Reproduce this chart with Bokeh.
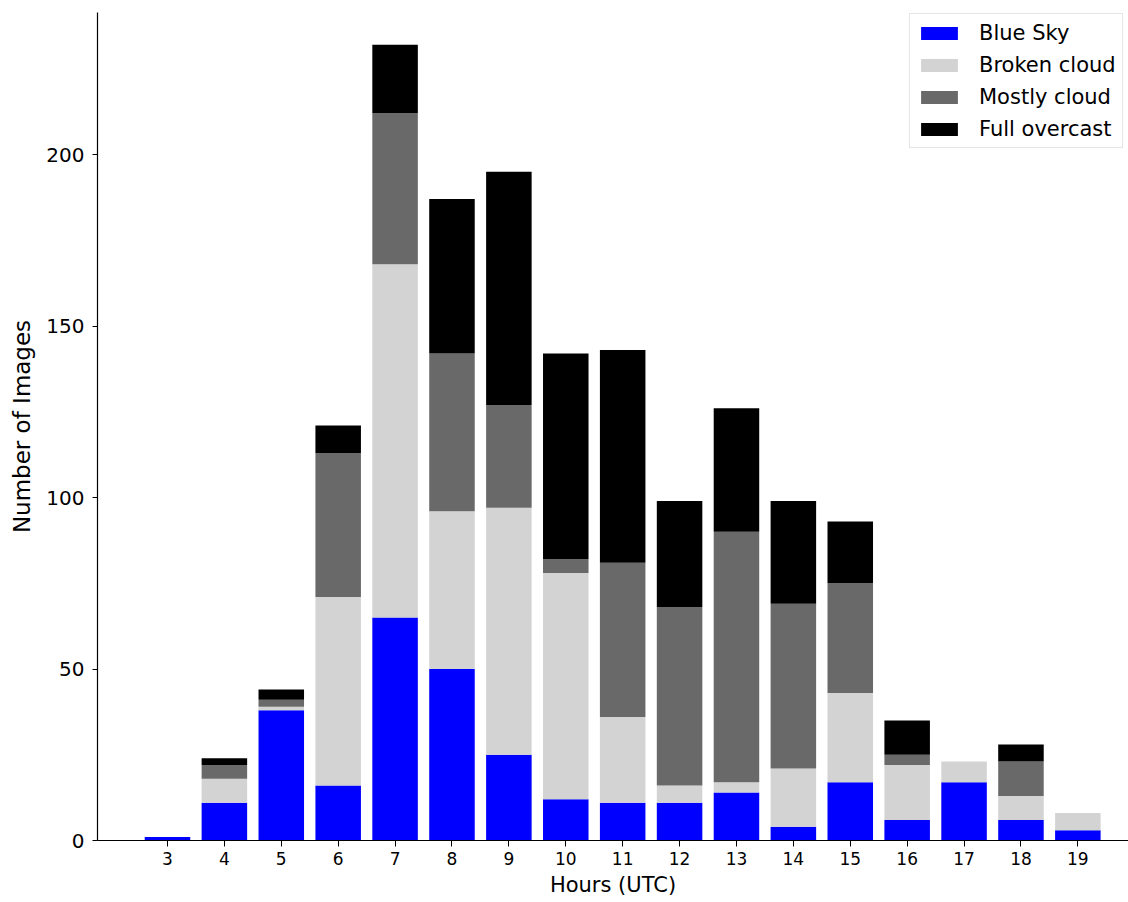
from bokeh.plotting import figure
from bokeh.models import ColumnDataSource, Range1d, Legend, LegendItem, FixedTicker
from bokeh.embed import file_html
from bokeh.resources import INLINE

hours = [3, 4, 5, 6, 7, 8, 9, 10, 11, 12, 13, 14, 15, 16, 17, 18, 19]
blue_sky = [1, 11, 38, 16, 65, 50, 25, 12, 11, 11, 14, 4, 17, 6, 17, 6, 3]
broken_cloud = [0, 7, 1, 55, 103, 46, 72, 66, 25, 5, 3, 17, 26, 16, 6, 7, 5]
mostly_cloud = [0, 4, 2, 42, 44, 46, 30, 4, 45, 52, 73, 48, 32, 3, 0, 10, 0]
full_overcast = [0, 2, 3, 8, 20, 45, 68, 60, 62, 31, 36, 30, 18, 10, 0, 5, 0]
y_ticks = [0, 50, 100, 150, 200]

series = ["Blue Sky", "Broken cloud", "Mostly cloud", "Full overcast"]
colors = ["#0000ff", "#d3d3d3", "#696969", "#000000"]

source = ColumnDataSource(data={
    "hour": hours,
    "Blue Sky": blue_sky,
    "Broken cloud": broken_cloud,
    "Mostly cloud": mostly_cloud,
    "Full overcast": full_overcast,
})

p = figure(width=1128, height=901, output_backend="svg", toolbar_location=None,
           x_range=Range1d(1.77, 19.89), y_range=Range1d(0, 241.4),
           min_border_left=97, min_border_right=0, min_border_top=12, min_border_bottom=61)

renderers = p.vbar_stack(series, x="hour", width=0.8, color=colors, source=source,
                         line_color=None)

p.outline_line_color = None
p.grid.grid_line_color = None
p.background_fill_color = "white"

p.xaxis.ticker = FixedTicker(ticks=hours)
p.yaxis.ticker = FixedTicker(ticks=y_ticks)
p.xaxis.minor_tick_line_color = None
p.yaxis.minor_tick_line_color = None
p.xaxis.major_tick_out = 6
p.xaxis.major_tick_in = 0
p.yaxis.major_tick_out = 5
p.yaxis.major_tick_in = 0
p.axis.axis_line_color = "black"
p.axis.axis_line_width = 1.2
p.axis.major_tick_line_color = "black"
p.axis.major_label_text_color = "black"
p.axis.major_label_text_font = "DejaVu Sans"
p.xaxis.major_label_text_font_size = "17px"
p.yaxis.major_label_text_font_size = "20px"
p.xaxis.major_label_standoff = 5
p.yaxis.major_label_standoff = 8

p.xaxis.axis_label = "Hours (UTC)"
p.yaxis.axis_label = "Number of Images"
p.axis.axis_label_text_font = "DejaVu Sans"
p.axis.axis_label_text_font_style = "normal"
p.axis.axis_label_text_color = "black"
p.xaxis.axis_label_text_font_size = "21px"
p.yaxis.axis_label_text_font_size = "23px"
p.xaxis.axis_label_standoff = 5
p.yaxis.axis_label_standoff = 8

legend = Legend(items=[LegendItem(label=s, renderers=[r]) for s, r in zip(series, renderers)],
                location=(812, 692))
legend.label_text_font = "DejaVu Sans"
legend.label_text_font_size = "21px"
legend.label_text_color = "black"
legend.glyph_width = 46
legend.glyph_height = 16
legend.label_height = 25
legend.label_standoff = 17
legend.padding = 6
legend.spacing = 7
legend.border_line_color = "#cccccc"
legend.border_line_width = 1
legend.background_fill_alpha = 0.9
legend.margin = 0
p.add_layout(legend)

open("out.html", "w").write(file_html(p, INLINE))
